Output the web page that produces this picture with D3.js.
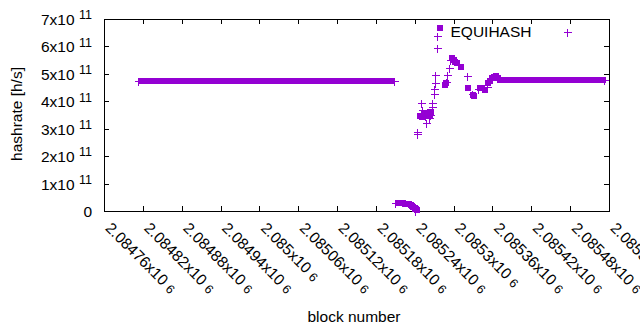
<!DOCTYPE html>
<html><head><meta charset="utf-8">
<script src="https://cdn.jsdelivr.net/npm/d3@7"></script>
<style>
body{margin:0;background:#fff}
svg{display:block}
text{font-family:"Liberation Sans",Arial,sans-serif;fill:#000}
</style>
</head><body>
<svg id="c" width="640" height="330"></svg>
<script>
// ---------- data (hashrate in units of 1e11 h/s) ----------
const xTicks = [2084760,2084820,2084880,2084940,2085000,2085060,2085120,2085180,2085240,2085300,2085360,2085420,2085480,2085540];
const xTickLabels = ["2.08476","2.08482","2.08488","2.08494","2.085","2.08506","2.08512","2.08518","2.08524","2.0853","2.08536","2.08542","2.08548","2.08554"];
const xTickExp = "6";
const yTicks = [0,1,2,3,4,5,6,7];
const yTickLabels = ["0","1","2","3","4","5","6","7"];
const yTickExp = "11";
const seriesName = "EQUIHASH";

// long flat run before the fork
const flat1Blocks = [2084817,2084823,2084829,2084835,2084841,2084847,2084853,2084859,2084865,2084871,
 2084877,2084883,2084889,2084895,2084901,2084907,2084913,2084919,2084925,2084931,
 2084937,2084943,2084949,2084955,2084961,2084967,2084973,2084979,2084985,2084991,
 2084997,2085003,2085009,2085015,2085021,2085027,2085033,2085039,2085045,2085051,
 2085057,2085063,2085069,2085075,2085081,2085087,2085093,2085099,2085105,2085111,
 2085117,2085123,2085129,2085135,2085141,2085147,2085153,2085159,2085165,2085171,
 2085177,2085183,2085189,2085195,2085201,2085205];
const flat1Hash = [4.73,4.73,4.73,4.73,4.73,4.73,4.73,4.73,4.73,4.73,
 4.73,4.73,4.73,4.73,4.73,4.73,4.73,4.73,4.73,4.73,
 4.73,4.73,4.73,4.73,4.73,4.73,4.73,4.73,4.73,4.73,
 4.73,4.73,4.73,4.73,4.73,4.73,4.73,4.73,4.73,4.73,
 4.73,4.73,4.73,4.73,4.73,4.73,4.73,4.73,4.73,4.73,
 4.73,4.73,4.73,4.73,4.73,4.73,4.73,4.73,4.73,4.73,
 4.73,4.73,4.73,4.73,4.73,4.73];

// flat run after recovery
const flat2Blocks = [2085376,2085382,2085388,2085394,2085400,2085406,2085412,2085418,2085424,2085430,
 2085436,2085442,2085448,2085454,2085460,2085466,2085472,2085478,2085484,2085490,
 2085496,2085502,2085508,2085514,2085520,2085526,2085530];
const flat2Hash = [4.76,4.76,4.76,4.76,4.76,4.76,4.76,4.76,4.76,4.76,
 4.76,4.76,4.76,4.76,4.76,4.76,4.76,4.76,4.76,4.76,
 4.76,4.76,4.76,4.76,4.76,4.76,4.76];

// squares in the transition
const sqBlocks = [2085216,2085219,2085222,2085225,2085228,2085231,2085234,2085236,2085238,2085240,2085242,2085243,
 2085248,2085251,2085254,2085257,2085260,2085263,2085265,
 2085287,2085289,2085298,2085300,2085302,2085306,2085312,2085322,2085330,2085332,2085341,2085344,2085348,2085353,2085356,2085359,2085362,2085365,2085368,2085372];
const sqHash = [0.29,0.29,0.28,0.27,0.26,0.24,0.21,0.18,0.15,0.11,0.07,0.03,
 3.48,3.42,3.52,3.45,3.55,3.50,3.60,
 4.60,4.68,5.57,5.52,5.44,5.40,5.26,4.47,4.23,4.20,4.47,4.50,4.41,4.66,4.75,4.84,4.88,4.92,4.86,4.78];

// plus points
const plusBlocks = [2084813,2085208,2085209,2085241,2085243,2085244,2085249,2085251,2085253,2085256,2085258,2085259,2085262,2085264,2085266,2085267,2085269,2085270,2085271,2085272,2085274,2085275,
 2085288,2085290,2085293,2085295,2085320,2085328,2085338,2085351,2085356,2085362,2085533];
const plusHash = [4.73,4.73,0.28,0.00,2.89,2.80,3.93,3.68,3.57,3.46,3.20,3.61,3.39,3.50,3.78,3.95,4.27,4.44,4.66,4.96,5.93,6.38,
 4.71,4.96,5.20,5.50,4.92,4.25,4.45,4.53,4.80,4.92,4.76];

// ---------- chart ----------
const svg = d3.select("#c");
const L = 104, R = 609, T = 19, B = 211;
const FS = 15.5, FSS = 12.5;
const color = "#9400d3";
const x = d3.scaleLinear().domain([xTicks[0], xTicks[xTicks.length-1]]).range([L, R]);
const y = d3.scaleLinear().domain([0, 7]).range([B, T]);

function styleAxis(g){
  g.select(".domain").remove();
  g.selectAll(".tick line").attr("stroke","#000").attr("shape-rendering","crispEdges");
  g.selectAll(".tick text").remove();
}
svg.append("g").attr("transform",`translate(0,${B})`)
  .call(d3.axisBottom(x).tickValues(xTicks).tickSizeInner(-5).tickSizeOuter(0)).call(styleAxis);
svg.append("g").attr("transform",`translate(0,${T})`)
  .call(d3.axisTop(x).tickValues(xTicks).tickSizeInner(-5).tickSizeOuter(0)).call(styleAxis);
svg.append("g").attr("transform",`translate(${L},0)`)
  .call(d3.axisLeft(y).tickValues(yTicks).tickSizeInner(-5).tickSizeOuter(0)).call(styleAxis);
svg.append("g").attr("transform",`translate(${R},0)`)
  .call(d3.axisRight(y).tickValues(yTicks).tickSizeInner(-5).tickSizeOuter(0)).call(styleAxis);

svg.append("rect").attr("x",L+0.5).attr("y",T+0.5).attr("width",R-L).attr("height",B-T)
  .attr("fill","none").attr("stroke","#000").attr("shape-rendering","crispEdges");

// y tick labels
yTicks.forEach((t,i)=>{
  const tx = svg.append("text").attr("x",92).attr("y",y(t)+0.5+5.5)
    .attr("text-anchor","end").attr("font-size",FS).text(yTickLabels[i] === "0" ? "0" : yTickLabels[i]+"x10");
  if (yTickLabels[i] !== "0") tx.append("tspan").attr("dx",4.5).attr("dy",-5.7).attr("font-size",FSS).text(yTickExp);
});

// x tick labels
xTicks.forEach((t,i)=>{
  const tx = svg.append("text").attr("transform",`translate(${x(t)+0.5},229) rotate(45)`)
    .attr("font-size",FS).text(xTickLabels[i]+"x10");
  tx.append("tspan").attr("dx",4.5).attr("dy",0.5).attr("font-size",FSS).text(xTickExp);
});

// axis titles
svg.append("text").attr("transform","translate(21.5,114) rotate(-90)").attr("text-anchor","middle")
  .attr("font-size",FS).text("hashrate [h/s]");
svg.append("text").attr("x",354).attr("y",321.5).attr("text-anchor","middle")
  .attr("font-size",FS).text("block number");

// data marks
const sqData = [];
flat1Blocks.forEach((b,i)=>sqData.push([b,flat1Hash[i]]));
sqBlocks.forEach((b,i)=>sqData.push([b,sqHash[i]]));
flat2Blocks.forEach((b,i)=>sqData.push([b,flat2Hash[i]]));
const plusData = plusBlocks.map((b,i)=>[b,plusHash[i]]);

const sq = 6;
svg.append("g").attr("shape-rendering","crispEdges").selectAll("rect").data(sqData).join("rect")
  .attr("x",d=>Math.round(x(d[0]))-sq/2).attr("y",d=>Math.round(y(d[1]))-sq/2)
  .attr("width",sq).attr("height",sq).attr("fill",color);
const ps = 4;
svg.append("g").attr("shape-rendering","crispEdges").selectAll("path").data(plusData).join("path")
  .attr("transform",d=>`translate(${Math.round(x(d[0]))+0.5},${Math.round(y(d[1]))+0.5})`)
  .attr("d",`M${-ps},0H${ps}M0,${-ps}V${ps}`).attr("stroke",color).attr("stroke-width",1).attr("fill","none");

// legend
svg.append("rect").attr("x",437).attr("y",25).attr("width",sq).attr("height",sq).attr("fill",color).attr("shape-rendering","crispEdges");
svg.append("text").attr("x",450.5).attr("y",37.3).attr("font-size",FS).text(seriesName);
svg.append("path").attr("transform","translate(567.5,32.5)").attr("shape-rendering","crispEdges")
  .attr("d",`M${-ps},0H${ps}M0,${-ps}V${ps}`).attr("stroke",color).attr("stroke-width",1);
</script>
</body></html>
